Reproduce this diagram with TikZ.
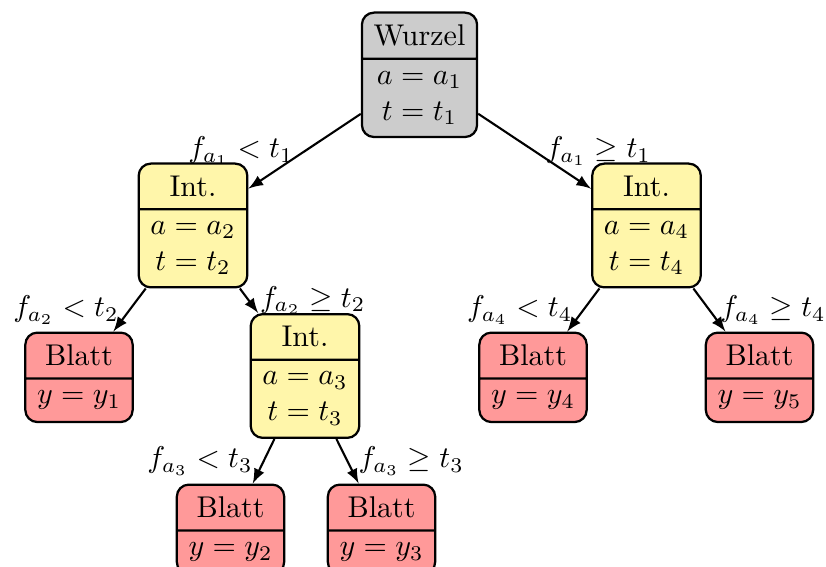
\documentclass[tikz,border=0pt]{standalone}
\usetikzlibrary{shapes.multipart,backgrounds,arrows}
\definecolor{intyellow}{RGB}{255,246,170}
\tikzset{
  boxbase/.style={rectangle split, rectangle split parts=2, draw, line width=0.75pt,
    inner xsep=3.9pt, inner ysep=3.75pt,
    rounded corners=4pt, align=center, anchor=north},
  rootbox/.style={boxbase, rectangle split part fill={gray!40,gray!40}},
  intbox/.style={boxbase, rectangle split part fill={intyellow,intyellow}},
  leafbox/.style={boxbase, rectangle split part fill={red!40,red!40}},
  conn/.style={-latex, line width=0.7pt},
}
\begin{document}
\begin{tikzpicture}[x=0.33333pt, y=-0.33333pt]
\useasboundingbox (0,0) rectangle (826,567);
\node[rootbox] (root) at (419.5,11.5) {Wurzel\nodepart{second}$a=a_1$\\$t=t_1$};
\node[intbox] (int1) at (193,162.5) {Int.\nodepart{second}$a=a_2$\\$t=t_2$};
\node[intbox] (int4) at (646.5,162.5) {Int.\nodepart{second}$a=a_4$\\$t=t_4$};
\node[leafbox] (leaf1) at (79,331.5) {Blatt\nodepart{second}$y=y_1$};
\node[intbox] (int3) at (305,313) {Int.\nodepart{second}$a=a_3$\\$t=t_3$};
\node[leafbox] (leaf4) at (533,331.5) {Blatt\nodepart{second}$y=y_4$};
\node[leafbox] (leaf5) at (759.5,331.5) {Blatt\nodepart{second}$y=y_5$};
\node[leafbox] (leaf2) at (230.5,483.5) {Blatt\nodepart{second}$y=y_2$};
\node[leafbox] (leaf3) at (381.5,483.5) {Blatt\nodepart{second}$y=y_3$};
\begin{pgfonlayer}{background}
\draw[conn] (root) -- (int1) node[midway,left] {$f_{a_1}<t_1$};
\draw[conn] (root) -- (int4) node[midway,right] {$f_{a_1}\geq t_1$};
\draw[conn] (int1) -- (leaf1) node[midway,left] {$f_{a_2}<t_2$};
\draw[conn] (int1) -- (int3) node[midway,right] {$f_{a_2}\geq t_2$};
\draw[conn] (int4) -- (leaf4) node[midway,left] {$f_{a_4}<t_4$};
\draw[conn] (int4) -- (leaf5) node[midway,right] {$f_{a_4}\geq t_4$};
\draw[conn] (int3) -- (leaf2) node[midway,left] {$f_{a_3}<t_3$};
\draw[conn] (int3) -- (leaf3) node[midway,right] {$f_{a_3}\geq t_3$};
\end{pgfonlayer}
\end{tikzpicture}
\end{document}
